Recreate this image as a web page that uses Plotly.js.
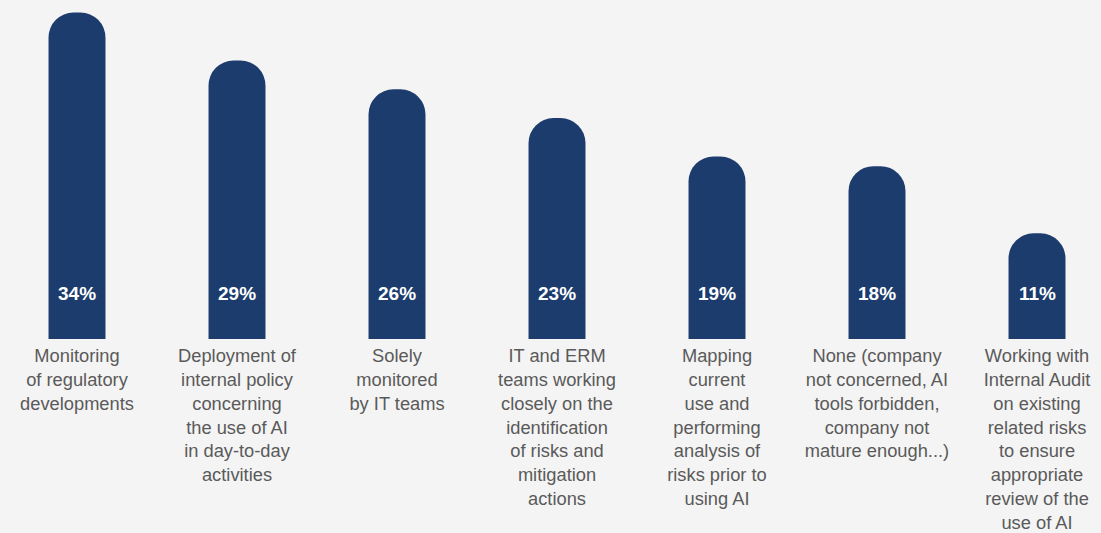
<!DOCTYPE html>
<html>
<head>
<meta charset="utf-8">
<script src="https://cdn.plot.ly/plotly-3.0.1.min.js"></script>
<style>
  html, body { margin: 0; padding: 0; background: #f4f4f4; }
  #chart { width: 1101px; height: 533px; }
</style>
</head>
<body>
<div id="chart"></div>
<script>
// AI risk monitoring approaches, share of respondents
const categories = [
  "Monitoring<br>of regulatory<br>developments",
  "Deployment of<br>internal policy<br>concerning<br>the use of AI<br>in day-to-day<br>activities",
  "Solely<br>monitored<br>by IT teams",
  "IT and ERM<br>teams working<br>closely on the<br>identification<br>of risks and<br>mitigation<br>actions",
  "Mapping<br>current<br>use and<br>performing<br>analysis of<br>risks prior to<br>using AI",
  "None (company<br>not concerned, AI<br>tools forbidden,<br>company not<br>mature enough...)",
  "Working with<br>Internal Audit<br>on existing<br>related risks<br>to ensure<br>appropriate<br>review of the<br>use of AI"
];
const values = [34, 29, 26, 23, 19, 18, 11];
const valueLabels = values.map(v => v + "%");

const navy = "#1d3c6e";
const grey = "#5a5a5a";

let trace = [{
  x: categories,
  y: values,
  type: "bar",
  width: 0.356,
  marker: { color: navy, cornerradius: 25 },
  hoverinfo: "skip"
}];

let annotations = categories.map((c, i) => ({
  x: c,
  y: 4.7,
  text: "<b>" + valueLabels[i] + "</b>",
  showarrow: false,
  font: { family: "Liberation Sans, Arial, sans-serif", size: 19, color: "#ffffff" }
}));

let layout = {
  width: 1101,
  height: 533,
  margin: { l: 0, r: 0, t: 0, b: 194 },
  paper_bgcolor: "#f4f4f4",
  plot_bgcolor: "#f4f4f4",
  showlegend: false,
  font: { family: "Liberation Sans, Arial, sans-serif", color: grey },
  xaxis: {
    type: "category",
    range: [-0.48125, 6.4],
    tickangle: 0,
    ticks: "",
    ticklabelstandoff: 4,
    showline: false,
    showgrid: false,
    zeroline: false,
    tickfont: { size: 18.3, color: grey },
    fixedrange: true
  },
  yaxis: {
    range: [0, 35.3],
    visible: false,
    showgrid: false,
    zeroline: false,
    fixedrange: true
  },
  annotations: annotations
};

Plotly.newPlot("chart", trace, layout, { displayModeBar: false, staticPlot: true });
</script>
</body>
</html>
